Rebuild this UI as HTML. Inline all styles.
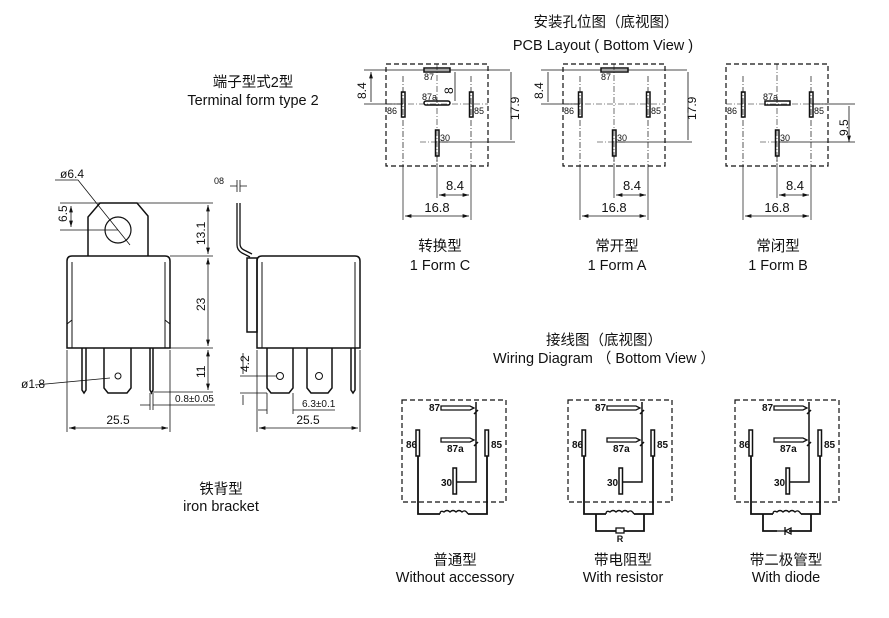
<!DOCTYPE html>
<html><head><meta charset="utf-8"><style>
html,body{margin:0;padding:0;background:#fff}
svg{display:block}
text{font-family:"Liberation Sans","Noto Sans CJK SC",sans-serif;fill:#111}
.t{font-size:14.5px}
.s{font-size:9px}
.d{font-size:12px}
</style></head><body>
<svg width="889" height="618" viewBox="0 0 889 618" xmlns="http://www.w3.org/2000/svg">
<defs>
<marker id="a" viewBox="0 0 10 6" refX="10" refY="3" markerWidth="8" markerHeight="5" orient="auto-start-reverse"><path d="M0,0L10,3L0,6z" fill="#111"/></marker>
</defs>

<text x="606" y="27" class="t" text-anchor="middle">安装孔位图（底视图）</text>
<text x="603" y="50" class="t" text-anchor="middle">PCB Layout ( Bottom View )</text>
<text x="253" y="87" class="t" text-anchor="middle">端子型式2型</text>
<text x="253" y="105" class="t" text-anchor="middle">Terminal form type 2</text>
<text x="440" y="251" class="t" text-anchor="middle">转换型</text>
<text x="440" y="270" class="t" text-anchor="middle">1 Form C</text>
<text x="617" y="251" class="t" text-anchor="middle">常开型</text>
<text x="617" y="270" class="t" text-anchor="middle">1 Form A</text>
<text x="778" y="251" class="t" text-anchor="middle">常闭型</text>
<text x="778" y="270" class="t" text-anchor="middle">1 Form B</text>
<text x="604" y="345" class="t" text-anchor="middle">接线图（底视图）</text>
<text x="604" y="363" class="t" text-anchor="middle">Wiring Diagram （ Bottom View ）</text>
<text x="221" y="494" class="t" text-anchor="middle">铁背型</text>
<text x="221" y="511" class="t" text-anchor="middle">iron bracket</text>
<text x="455" y="565" class="t" text-anchor="middle">普通型</text>
<text x="455" y="582" class="t" text-anchor="middle">Without accessory</text>
<text x="623" y="565" class="t" text-anchor="middle">带电阻型</text>
<text x="623" y="582" class="t" text-anchor="middle">With resistor</text>
<text x="786" y="565" class="t" text-anchor="middle">带二极管型</text>
<text x="786" y="582" class="t" text-anchor="middle">With diode</text>

<!-- Front view -->
<g fill="none" stroke="#111" stroke-width="1.5">
<path d="M88,256 V217 L100,203 H137 L148,216 V256"/>
<circle cx="118" cy="230" r="13" stroke-width="1.2"/>
<path d="M67,348 V261 Q67,256 72,256 H165 Q170,256 170,261 V348 Z"/>
<path d="M72,348 V262 M165,348 V262 M72,320 L67,324 M165,320 L170,324" stroke-width="1"/>
<path d="M82,348 V390 L84,393 L86,390 V348"/>
<path d="M104,348 V388 L108,393 H127 L131,388 V348"/>
<path d="M150,348 V390 L151.5,393 L153,390 V348"/>
<circle cx="118" cy="376" r="3" stroke-width="1"/>
<path d="M237,203 V245 Q237,250 242,253 L250,257 M240,203 V244 Q240,248 244,250 L252,254" stroke-width="1.3"/>
<path d="M257,348 V261 Q257,256 262,256 H355 Q360,256 360,261 V348 Z"/>
<path d="M262,348 V262 M355,348 V262" stroke-width="1"/>
<path d="M247,258 H257 V332 H247 Z"/>
<path d="M267,348 V388 L271,393 H289 L293,388 V348"/>
<path d="M307,348 V388 L311,393 H328 L332,388 V348"/>
<path d="M351,348 V390 L353,393 L355,390 V348"/>
<circle cx="280" cy="376" r="3.5" stroke-width="1"/>
<circle cx="319" cy="376" r="3.5" stroke-width="1"/>
</g>
<g fill="none" stroke="#111" stroke-width="0.8">
<path d="M55,180 H78 L130,245"/>
<path d="M60,203 H170 M60,230 H118 M148,203 H213 M170,256 H213 M170,348 H213 M153,392 H213"/>
<path d="M71,227 V206" marker-end="url(#a)" marker-start="url(#a)"/>
<path d="M208,205 V254" marker-end="url(#a)" marker-start="url(#a)"/>
<path d="M208,258 V346" marker-end="url(#a)" marker-start="url(#a)"/>
<path d="M208,350 V390" marker-end="url(#a)" marker-start="url(#a)"/>
<path d="M67,350 V432 M170,350 V432 M257,350 V432 M360,350 V432"/>
<path d="M69,428 H168" marker-end="url(#a)" marker-start="url(#a)"/>
<path d="M259,428 H358" marker-end="url(#a)" marker-start="url(#a)"/>
<path d="M35,385 L110,378"/>
<path d="M150,393 V410 M153,393 V410 M140,405 H150 M163,405 H153 M153,405 H215"/>
<path d="M267,393 V414 M293,393 V414 M258,410 H267 M302,410 H293 M293,410 H335"/>
<path d="M240,376 H277 M240,393 H267 M243,353 V374 M243,395 V405"/>
<path d="M230,186 H237 M247,186 H240 M237,180 V192 M240,180 V192"/>
</g>
<text x="60" y="178" class="d">ø6.4</text>
<text x="0" y="0" class="d" transform="translate(67,222) rotate(-90)">6.5</text>
<text x="0" y="0" class="d" transform="translate(205,245) rotate(-90)">13.1</text>
<text x="0" y="0" class="d" transform="translate(205,311) rotate(-90)">23</text>
<text x="0" y="0" class="d" transform="translate(205,378) rotate(-90)">11</text>
<text x="0" y="0" class="d" transform="translate(249,372) rotate(-90)">4.2</text>
<text x="21" y="388" class="d">ø1.8</text>
<text x="118" y="424" class="d" text-anchor="middle">25.5</text>
<text x="308" y="424" class="d" text-anchor="middle">25.5</text>
<text x="175" y="402" style="font-size:10px">0.8±0.05</text>
<text x="302" y="407" style="font-size:10px">6.3±0.1</text>
<text x="214" y="184" class="s">08</text>

<!-- PCB layouts -->
<g id="pcb">
<g fill="none" stroke="#111">
<rect x="386" y="64" width="102" height="102" stroke-dasharray="5,3" stroke-width="1.2"/>
<path d="M386,104 H488 M437,64 V166 M420,142 H448" stroke-width="0.6" stroke-dasharray="6,2,1,2"/>
<path d="M403,76 V166 M471,76 V166 M437,156 V166" stroke-width="0.7" stroke-dasharray="6,2,1,2"/>
<path d="M403,166 V220 M471,166 V220 M437,166 V198" stroke-width="0.7"/>
<rect x="401.5" y="92" width="3.5" height="25" stroke-width="1.5"/>
<rect x="469.5" y="92" width="3.5" height="25" stroke-width="1.5"/>
<rect x="435.5" y="130" width="3.5" height="26" stroke-width="1.5"/>
<path d="M439,195 H469" stroke-width="0.8" marker-end="url(#a)" marker-start="url(#a)"/>
<path d="M405,216 H469" stroke-width="0.8" marker-end="url(#a)" marker-start="url(#a)"/>
</g>
<text x="397" y="114" class="s" text-anchor="end">86</text>
<text x="474" y="114" class="s">85</text>
<text x="440" y="141" class="s">30</text>
<text x="455" y="190" class="d" text-anchor="middle" style="font-size:13px">8.4</text>
<text x="437" y="212" class="d" text-anchor="middle" style="font-size:13px">16.8</text>
</g>
<use href="#pcb" x="177"/>
<use href="#pcb" x="340"/>
<g fill="none" stroke="#111">
<path d="M439,142 H515 M616,142 H692 M779,142 H855" stroke-width="0.8"/>
<path d="M364,70 H510 M364,104 H403 M541,70 H687 M541,104 H580 M812,104 H855" stroke-width="0.8"/>
<path d="M371,72 V102 M548,72 V102 M455,72 V101 M511,72 V140 M688,72 V140 M849,106 V142" stroke-width="0.8" marker-end="url(#a)" marker-start="url(#a)"/>
<rect x="424" y="68" width="26" height="4" stroke-width="1.5"/>
<rect x="424" y="101" width="26" height="4" stroke-width="1.5" rx="2"/>
<rect x="601" y="68" width="27" height="4" stroke-width="1.5"/>
<rect x="765" y="101" width="25" height="4" stroke-width="1.5"/>
</g>
<text x="424" y="80" class="s">87</text>
<text x="422" y="100" class="s">87a</text>
<text x="601" y="80" class="s">87</text>
<text x="763" y="100" class="s">87a</text>
<text x="0" y="0" class="d" transform="translate(366,99) rotate(-90)">8.4</text>
<text x="0" y="0" class="d" transform="translate(543,99) rotate(-90)">8.4</text>
<text x="0" y="0" class="d" transform="translate(453,94) rotate(-90)">8</text>
<text x="0" y="0" class="d" transform="translate(519,120) rotate(-90)">17.9</text>
<text x="0" y="0" class="d" transform="translate(696,120) rotate(-90)">17.9</text>
<text x="0" y="0" class="d" transform="translate(848,136) rotate(-90)">9.5</text>

<!-- Wiring -->
<g id="w">
<g fill="none" stroke="#111">
<rect x="402" y="400" width="104" height="102" stroke-dasharray="5,3" stroke-width="1.2"/>
<rect x="416" y="430" width="3.5" height="26" stroke-width="1.5"/>
<rect x="485" y="430" width="3.5" height="26" stroke-width="1.5"/>
<rect x="453" y="468" width="3.5" height="26" stroke-width="1.5"/>
<path d="M441,406 H470 L474,408 L470,410 H441 Z M441,438 H470 L474,440 L470,442 H441 Z" stroke-width="1.3"/>
<path d="M476,402 V482 H457 M474,414 L478,410 M474,446 L478,442" stroke-width="1.5"/>
<path d="M418,456 V514 H440 M468,514 H487 V456" stroke-width="1.8"/>
<path d="M440,514 Q440,510 444,512 Q447,509 450,512 Q453,509 456,512 Q459,509 462,512 Q465,509 468,514" stroke-width="1.3"/>
</g>
<text x="406" y="448" style="font-size:10px;font-weight:bold">86</text>
<text x="491" y="448" style="font-size:10px;font-weight:bold">85</text>
<text x="429" y="411" style="font-size:10px;font-weight:bold">87</text>
<text x="447" y="452" style="font-size:10px;font-weight:bold">87a</text>
<text x="441" y="486" style="font-size:10px;font-weight:bold">30</text>
</g>
<use href="#w" x="166"/>
<use href="#w" x="333"/>
<g fill="none" stroke="#111" stroke-width="1.8">
<path d="M596,514 V531 H616 M624,531 H644 V514"/>
<rect x="616" y="528" width="8" height="5" stroke-width="1.3"/>
<path d="M763,514 V531 H777 M789,531 H811 V514"/>
<path d="M777,531 H785 M785,527 V535 M785,531 L791,528 V534 Z" stroke-width="1.3"/>
</g>
<text x="620" y="542" class="s" text-anchor="middle" style="font-weight:bold">R</text>
</svg>
</body></html>
